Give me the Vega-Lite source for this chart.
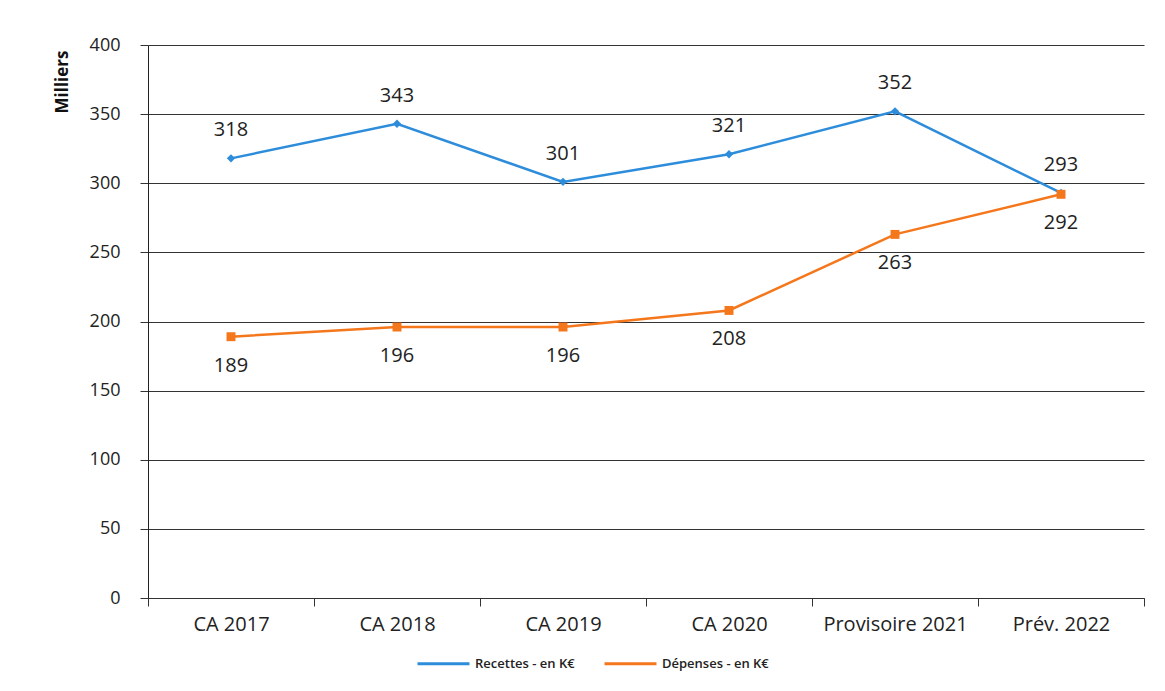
{
  "$schema": "https://vega.github.io/schema/vega-lite/v6.json",
  "autosize": "none",
  "width": 996,
  "height": 553,
  "padding": {"left": 148, "top": 45, "right": 21, "bottom": 93},
  "background": "white",
  "data": {
    "values": [
      {"cat": "CA 2017", "serie": "Recettes  - en K€", "v": 318},
      {"cat": "CA 2018", "serie": "Recettes  - en K€", "v": 343},
      {"cat": "CA 2019", "serie": "Recettes  - en K€", "v": 301},
      {"cat": "CA 2020", "serie": "Recettes  - en K€", "v": 321},
      {"cat": "Provisoire 2021", "serie": "Recettes  - en K€", "v": 352},
      {"cat": "Prév. 2022", "serie": "Recettes  - en K€", "v": 293},
      {"cat": "CA 2017", "serie": "Dépenses  - en K€", "v": 189},
      {"cat": "CA 2018", "serie": "Dépenses  - en K€", "v": 196},
      {"cat": "CA 2019", "serie": "Dépenses  - en K€", "v": 196},
      {"cat": "CA 2020", "serie": "Dépenses  - en K€", "v": 208},
      {"cat": "Provisoire 2021", "serie": "Dépenses  - en K€", "v": 263},
      {"cat": "Prév. 2022", "serie": "Dépenses  - en K€", "v": 292}
    ]
  },
  "encoding": {
    "x": {
      "field": "cat", "type": "ordinal", "sort": null,
      "scale": {"type": "band", "paddingInner": 0, "paddingOuter": 0},
      "axis": {
        "title": null, "labelAngle": 0, "tickBand": "extent",
        "labelFont": "Open Sans", "labelFontSize": 20, "labelColor": "#222",
        "labelPadding": 8, "tickSize": 8, "tickColor": "#333", "domainColor": "#333",
        "grid": false
      }
    },
    "y": {
      "field": "v", "type": "quantitative",
      "scale": {"domain": [0, 400]},
      "axis": {
        "title": "Milliers", "values": [0, 50, 100, 150, 200, 250, 300, 350, 400],
        "titleFont": "Open Sans", "titleFontSize": 17, "titleFontWeight": "bold", "titleColor": "#111",
        "titleAnchor": "end", "titleX": -86, "titleY": 5, "titleAlign": "right", "titleBaseline": "middle",
        "labelFont": "Open Sans", "labelFontSize": 18, "labelColor": "#222",
        "labelPadding": 20, "tickSize": 8, "tickColor": "#333", "domainColor": "#222",
        "grid": true, "gridColor": "#333", "gridWidth": 1.2
      }
    },
    "color": {
      "field": "serie", "type": "nominal", "sort": null,
      "scale": {"domain": ["Recettes  - en K€", "Dépenses  - en K€"], "range": ["#2e8ddb", "#f5771c"]},
      "legend": {
        "title": null, "orient": "none", "direction": "horizontal",
        "legendX": 268, "legendY": 591,
        "symbolType": "stroke", "symbolSize": 2700, "symbolStrokeWidth": 3,
        "labelFont": "Open Sans", "labelFontSize": 13, "labelColor": "#222", "labelFontWeight": 600,
        "columnPadding": 19, "labelOffset": 4
      }
    }
  },
  "layer": [
    {"mark": {"type": "line", "strokeWidth": 2.5}},
    {
      "transform": [{"filter": "datum.serie == 'Recettes  - en K€'"}],
      "mark": {"type": "point", "shape": "diamond", "filled": true, "size": 70, "opacity": 1}
    },
    {
      "transform": [{"filter": "datum.serie == 'Dépenses  - en K€'"}],
      "mark": {"type": "point", "shape": "square", "filled": true, "size": 80, "opacity": 1}
    },
    {
      "transform": [{"filter": "datum.serie == 'Recettes  - en K€'"}],
      "mark": {"type": "text", "dy": -28, "font": "Open Sans", "fontSize": 20},
      "encoding": {"text": {"field": "v", "type": "quantitative"}, "color": {"value": "#222"}}
    },
    {
      "transform": [{"filter": "datum.serie == 'Dépenses  - en K€'"}],
      "mark": {"type": "text", "dy": 29, "font": "Open Sans", "fontSize": 20},
      "encoding": {"text": {"field": "v", "type": "quantitative"}, "color": {"value": "#222"}}
    }
  ],
  "config": {"view": {"stroke": null}}
}
